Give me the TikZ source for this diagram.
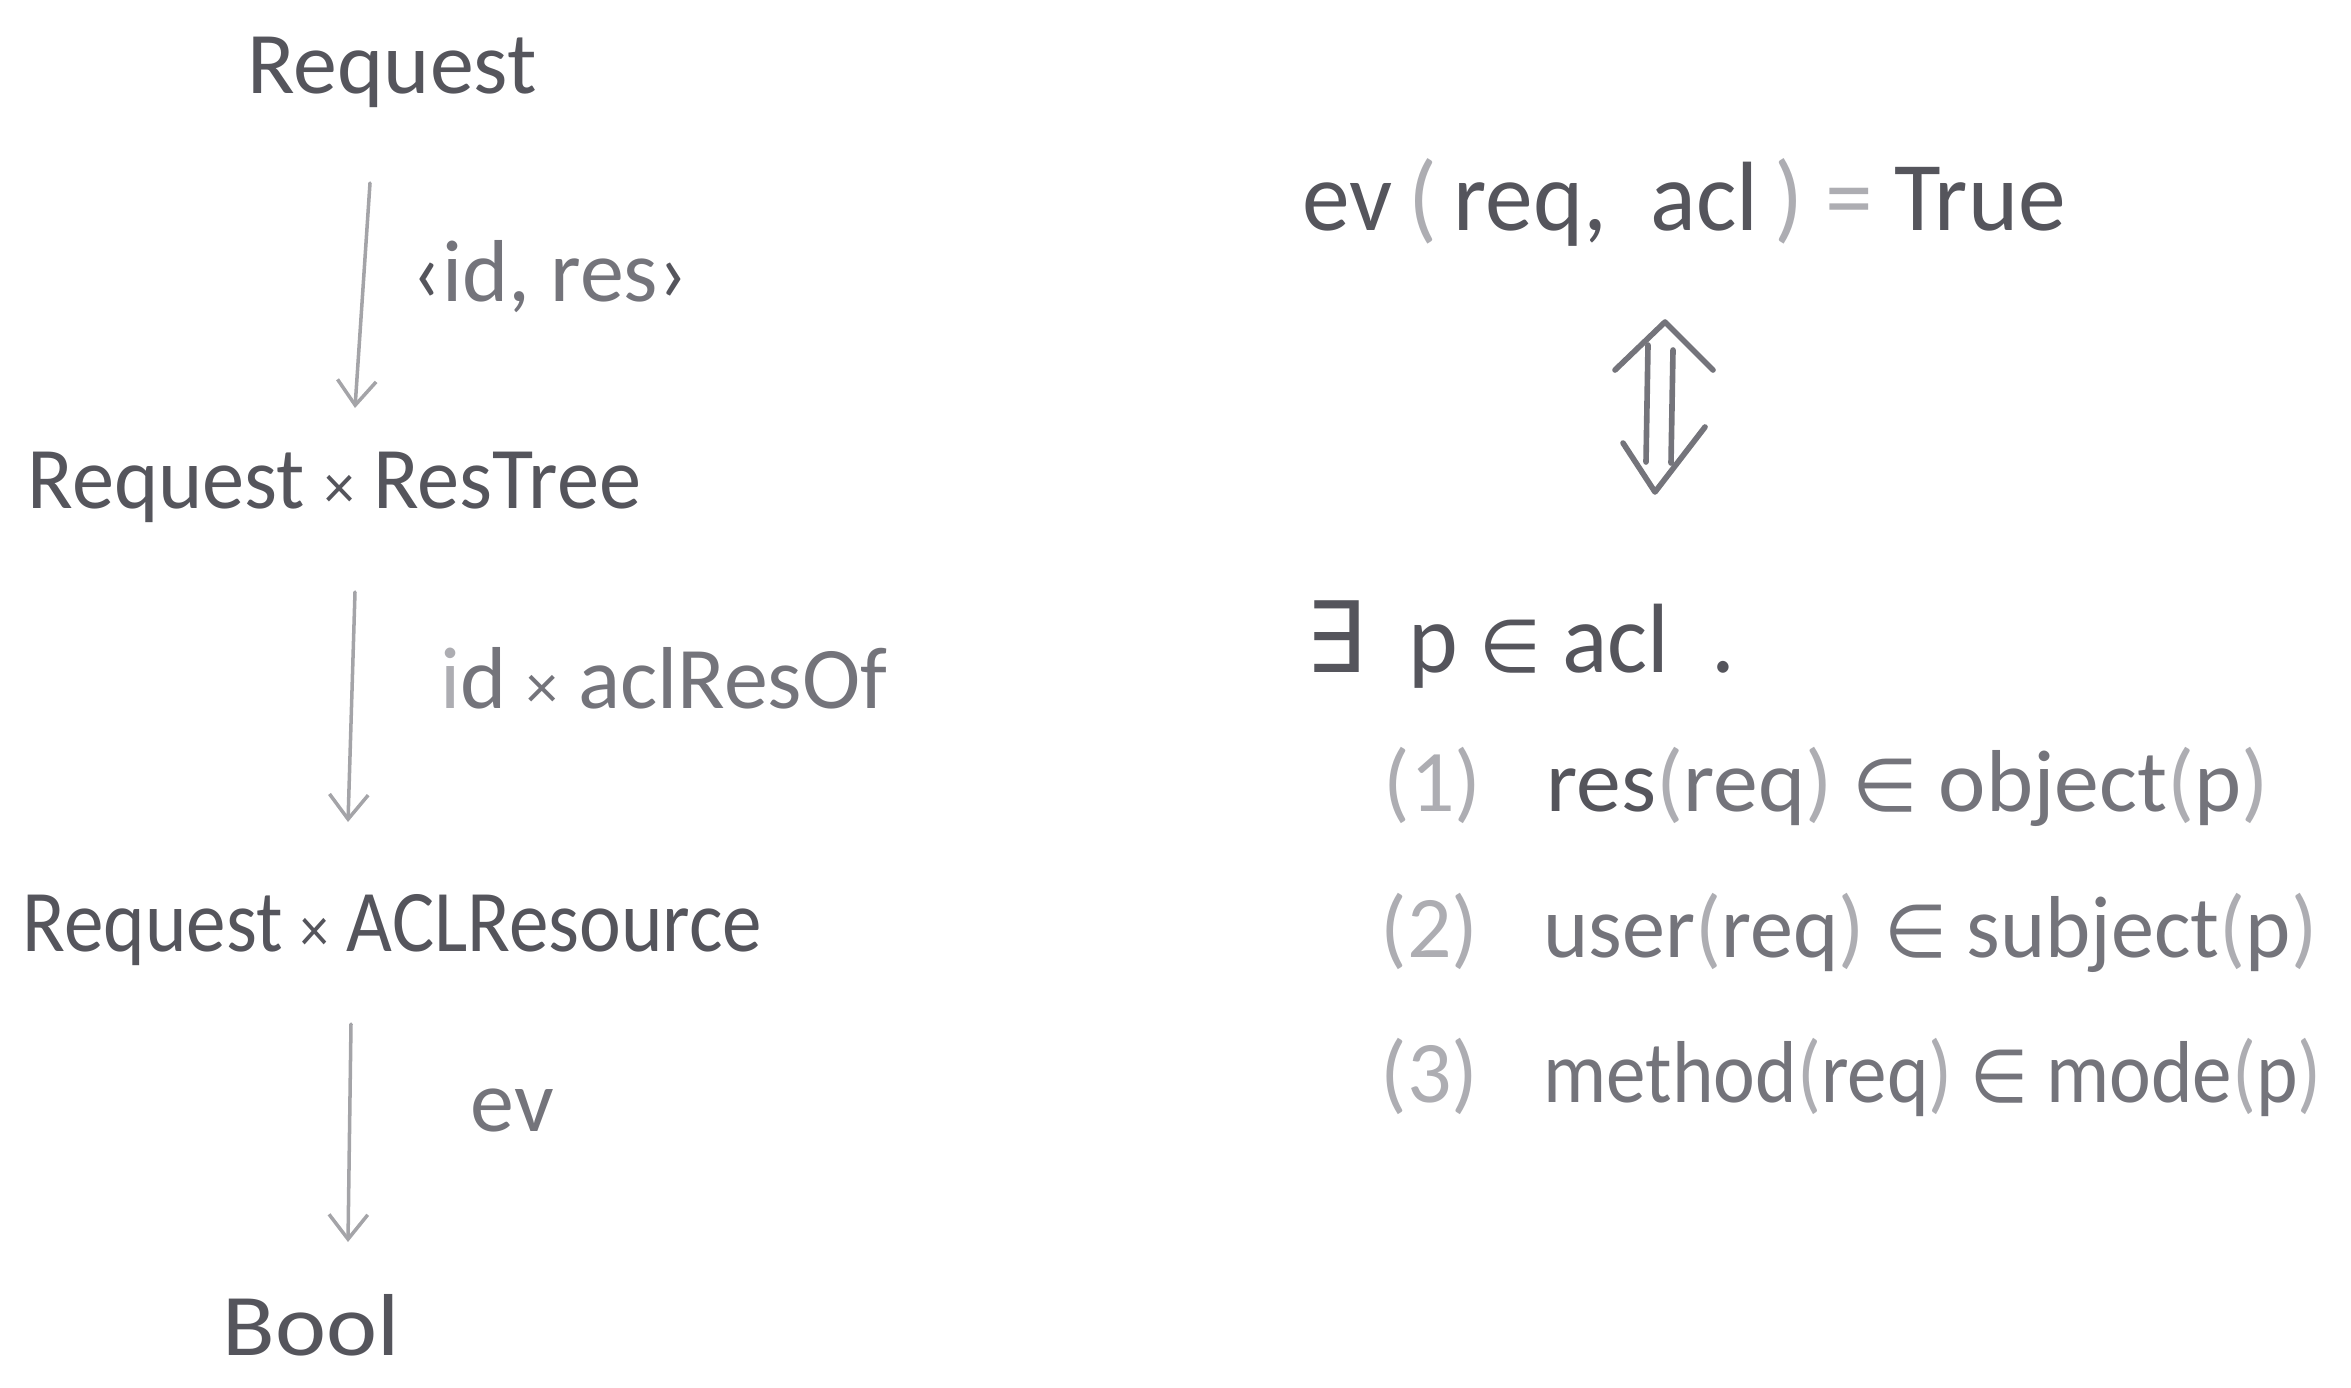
\documentclass[tikz,border=0pt]{standalone}
\usepackage{fontspec}
\setmainfont{Carlito}
\newfontfamily\symfont{DejaVu Sans}
\usetikzlibrary{arrows.meta}
\definecolor{ink}{HTML}{55555C}
\definecolor{mid}{HTML}{74747B}
\definecolor{lite}{HTML}{ADADB2}
\definecolor{arrc}{HTML}{A4A4A8}
\newcommand{\lpar}{{\color{lite}(}}
\newcommand{\rpar}{{\color{lite})}}
\newcommand{\elt}{{\symfont\fontsize{21}{24}\selectfont ∈}}
\newcommand{\tms}{{\fontsize{18}{20}\selectfont ×}}
\newcommand{\nar}[2]{\scalebox{#1}[1]{#2}}
\begin{document}
\begin{tikzpicture}[x=0.01cm,y=-0.01cm,
  lbl/.style={font=\fontsize{25}{30}\selectfont, text=ink, inner sep=0pt, anchor=west},
  big/.style={font=\fontsize{28}{32}\selectfont, text=ink, inner sep=0pt, anchor=west},
  conn/.style={draw=arrc, line width=1pt, line cap=round,
    -{Straight Barb[length=7pt,width=11pt,line width=1pt]}},
  dbl/.style={draw=mid, line width=1.6pt, line cap=round, line join=round}]
\useasboundingbox (0,0) rectangle (2351,1387);

% left column
\node[lbl] (n1) at (247,72) {Request};
\node[lbl] (n2) at (27,487) {\nar{0.96}{Request \tms\ ResTree}};
\node[lbl] (n3) at (22,930) {\nar{0.9}{Request \tms\ ACLResource}};
\node[lbl] (n4) at (222,1325) {\nar{1.1}{Bool}};

\node[lbl, text=mid] (l1) at (412,277) {{\color{ink}‹}id, res{\color{ink}›}};
\node[lbl, text=mid] (l2) at (440,678) {{\color{lite}i}d \tms\ aclResOf};
\node[lbl, text=mid] (l3) at (470,1110) {ev};

\coordinate (a1s) at (370,183); \coordinate (a1e) at (355,408);
\coordinate (a2s) at (355,592); \coordinate (a2e) at (348,822);
\coordinate (a3s) at (351,1024); \coordinate (a3e) at (348,1242);
\draw[conn] (a1s) -- (a1e);
\draw[conn] (a2s) -- (a2e);
\draw[conn] (a3s) -- (a3e);

% right column
\node[big] (top) at (1302,202) {\nar{0.97}{ev\,{\color{lite}(}\,req,\ \ acl\,{\color{lite})}\ {\color{lite}=}\ True}};

\draw[dbl] (1615,370) -- (1665,322) -- (1713,370);
\draw[dbl] (1648,345) -- (1646,462);
\draw[dbl] (1673,350) -- (1671,463);
\draw[dbl] (1623,443) -- (1655,492) -- (1705,427);

\node[big] (ex) at (1305,645) {\nar{0.96}{{\symfont ∃}\ \ p \elt\ acl\ \ .}};

\node[lbl, text=mid] (i1) at (1383,787) {{\color{lite}(1)}\hspace{0.65cm}\nar{1.02}{{\color{ink}res}\lpar req\rpar\ \elt\ object\lpar p\rpar}};
\node[lbl, text=mid] (i2) at (1380,933) {{\color{lite}(2)}\hspace{0.65cm}\nar{0.98}{user\lpar req\rpar\ \elt\ subject\lpar p\rpar}};
\node[lbl, text=mid] (i3) at (1380,1077) {{\color{lite}(3)}\hspace{0.65cm}\nar{0.9}{method\lpar req\rpar\ \elt\ mode\lpar p\rpar}};
\end{tikzpicture}
\end{document}
